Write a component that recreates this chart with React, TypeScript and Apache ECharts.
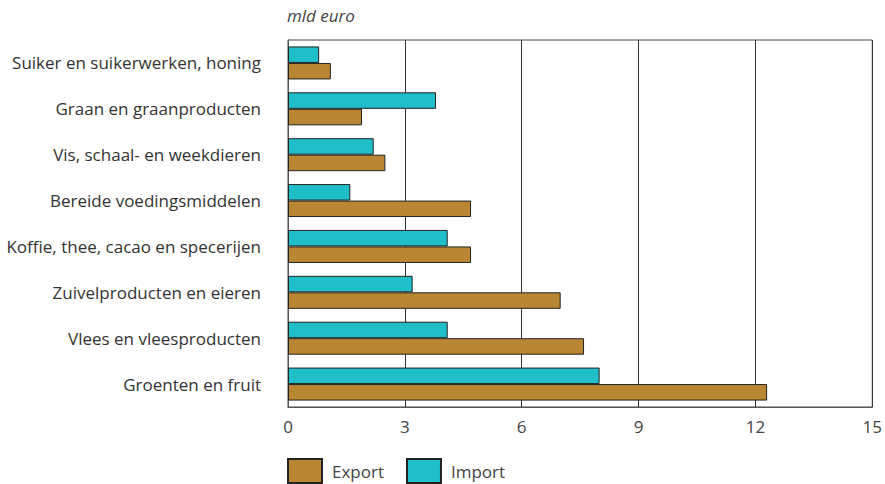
import React, { useEffect, useRef } from "react";
import * as echarts from "echarts";

const categories = [
  "Suiker en suikerwerken, honing",
  "Graan en graanproducten",
  "Vis, schaal- en weekdieren",
  "Bereide voedingsmiddelen",
  "Koffie, thee, cacao en specerijen",
  "Zuivelproducten en eieren",
  "Vlees en vleesproducten",
  "Groenten en fruit",
];
const exportValues = [1.1, 1.9, 2.5, 4.7, 4.7, 7.0, 7.6, 12.3];
const importValues = [0.8, 3.8, 2.2, 1.6, 4.1, 3.2, 4.1, 8.0];
const xTicks = { min: 0, max: 15, interval: 3 };
const unitLabel = "mld euro";

const FONT = "'Open Sans', 'Noto Sans', sans-serif";
const EXPORT_COLOR = "#B98733";
const IMPORT_COLOR = "#20BEC8";

export default function App() {
  const ref = useRef<HTMLDivElement>(null);
  useEffect(() => {
    if (!ref.current) return;
    const chart = echarts.init(ref.current, undefined, { renderer: "svg" });
    chart.setOption({
      animation: false,
      backgroundColor: "#fff",
      textStyle: { fontFamily: FONT },
      title: {
        text: unitLabel,
        left: 287,
        top: 7,
        padding: 0,
        textStyle: { fontFamily: FONT, fontStyle: "italic", fontWeight: "normal", fontSize: 17, color: "#444" },
      },
      grid: {
        left: 288,
        right: 10,
        top: 40,
        bottom: 77,
        show: true,
        borderColor: "#444",
        borderWidth: 1,
      },
      legend: {
        left: 287,
        top: 458,
        padding: 0,
        itemWidth: 34,
        itemHeight: 24,
        itemGap: 22,
        icon: "rect",
        data: ["Export", "Import"],
        textStyle: { fontFamily: FONT, fontSize: 17, color: "#444", padding: [0, 0, 0, 5] },
      },
      xAxis: {
        type: "value",
        min: xTicks.min,
        max: xTicks.max,
        interval: xTicks.interval,
        axisLine: { show: true, lineStyle: { color: "#555" } },
        axisTick: { show: false },
        splitLine: { show: true, lineStyle: { color: "#333", width: 1 } },
        axisLabel: { fontFamily: FONT, fontSize: 17, color: "#444", margin: 11 },
      },
      yAxis: {
        type: "category",
        inverse: true,
        data: categories,
        axisLine: { show: true, lineStyle: { color: "#555" } },
        axisTick: { show: false },
        axisLabel: { fontFamily: FONT, fontSize: 17, color: "#333", margin: 27 },
      },
      series: [
        {
          name: "Import",
          type: "bar",
          data: importValues,
          barWidth: 16.5,
          barGap: "0%",
          itemStyle: { color: IMPORT_COLOR, borderColor: "#222", borderWidth: 1 },
        },
        {
          name: "Export",
          type: "bar",
          data: exportValues,
          barWidth: 16.5,
          barGap: "0%",
          itemStyle: { color: EXPORT_COLOR, borderColor: "#222", borderWidth: 1 },
        },
      ],
    });
    return () => chart.dispose();
  }, []);
  return (
    <div
      ref={ref}
      style={{ position: "fixed", left: 0, top: 0, width: 885, height: 484 }}
    />
  );
}
